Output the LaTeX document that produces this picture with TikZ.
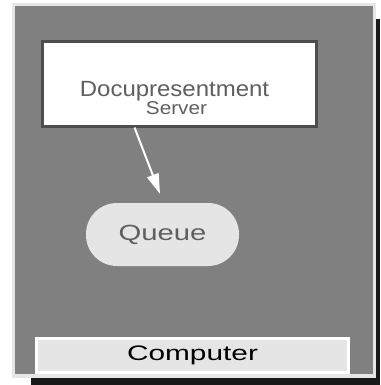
\documentclass[tikz,border=0pt]{standalone}
\usepackage{fontspec}
\setmainfont{Liberation Sans}
\usetikzlibrary{arrows.meta}
\definecolor{framegray}{HTML}{808080}
\definecolor{edgegray}{HTML}{E6E6E6}
\definecolor{boxedge}{HTML}{4D4D4D}
\definecolor{fillgray}{HTML}{E5E5E5}
\definecolor{textgray}{HTML}{5F5F5F}
\tikzset{
  serverbox/.style={draw=boxedge, line width=2.7pt, fill=white,
    minimum width=274.3pt, minimum height=84.8pt, inner sep=0pt},
  lbl/.style={text=textgray, inner sep=0pt, anchor=base},
  queuebox/.style={fill=fillgray, rounded corners=31pt,
    minimum width=153pt, minimum height=63pt, text=textgray,
    font=\fontsize{22}{24}\selectfont},
  compbar/.style={draw=white, line width=3pt, fill=fillgray,
    minimum width=312pt, minimum height=34pt,
    font=\fontsize{21}{24}\selectfont},
  flow/.style={white, line width=2pt, -{Triangle[length=20pt,width=12pt]}}
}
\begin{document}
\begin{tikzpicture}[x=1pt,y=-1pt]
\useasboundingbox (0,0) rectangle (380,385);
% frame with shadow
\fill[black!90] (31,19) rectangle (380,385);
\fill[edgegray] (12,3) rectangle (376,378);
\fill[framegray] (15,6) rectangle (373,374);
% server
\node[serverbox] (server) at (179.5,83.75) {};
\node[lbl, font=\fontsize{22}{24}\selectfont] (docu) at (174.5,96)
  {\scalebox{1.09}[1]{Docupresentment}};
\node[lbl, font=\fontsize{18.5}{20}\selectfont] (srvname) at (176.5,114)
  {\scalebox{1.12}[1]{Server}};
% queue
\node[queuebox] (queue) at (162.5,234.5) {\scalebox{1.33}[1]{Queue}};
% computer
\node[compbar] (computer) at (192.5,355.5) {\scalebox{1.42}[1]{Computer}};
\draw[flow] ([xshift=-45pt]server.south) -- ([xshift=-2.5pt,yshift=9pt]queue.north);
\end{tikzpicture}
\end{document}
